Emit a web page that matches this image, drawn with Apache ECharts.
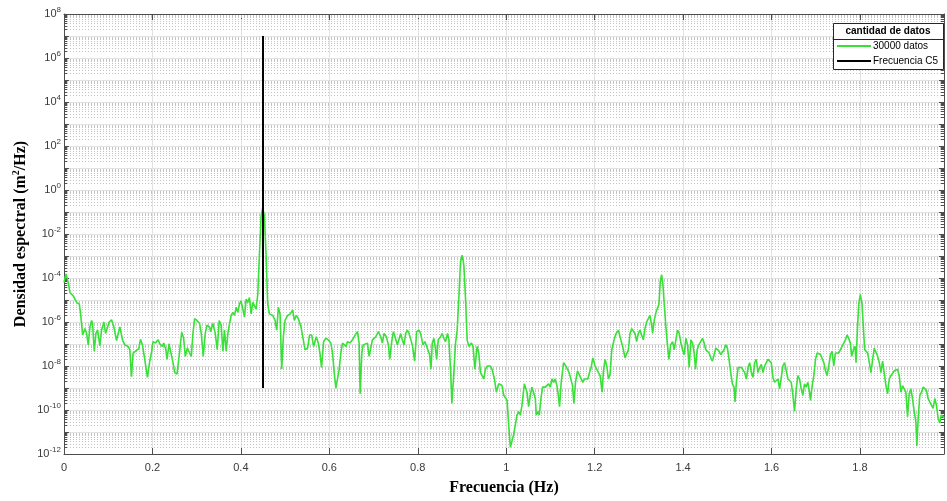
<!DOCTYPE html>
<html>
<head>
<meta charset="utf-8">
<title>Densidad espectral</title>
<script src="https://cdn.jsdelivr.net/npm/echarts@6/dist/echarts.min.js"></script>
<style>
html, body { margin: 0; padding: 0; background: #fff; }
#chart { width: 947px; height: 501px; }
</style>
</head>
<body>
<div id="chart"></div>
<script>
// espectro (densidad en log10, m^2/Hz)
var frecuencia = [
	0.0000, 0.0023, 0.0045, 0.0098, 0.0135, 0.0210, 0.0286, 0.0346, 0.0376, 0.0421,
	0.0474, 0.0511, 0.0549, 0.0586, 0.0624, 0.0646, 0.0684, 0.0722, 0.0759, 0.0812,
	0.0849, 0.0902, 0.0940, 0.0985, 0.1022, 0.1075, 0.1127, 0.1188, 0.1263, 0.1323,
	0.1375, 0.1451, 0.1488, 0.1526, 0.1563, 0.1639, 0.1691, 0.1729, 0.1774, 0.1826,
	0.1887, 0.1939, 0.1977, 0.2014, 0.2067, 0.2127, 0.2165, 0.2225, 0.2255, 0.2300,
	0.2330, 0.2375, 0.2413, 0.2465, 0.2503, 0.2555, 0.2616, 0.2661, 0.2706, 0.2743,
	0.2789, 0.2841, 0.2879, 0.2916, 0.2954, 0.3006, 0.3067, 0.3104, 0.3149, 0.3194,
	0.3232, 0.3292,
	0.3315, 0.3367, 0.3420, 0.3465, 0.3510, 0.3555, 0.3593, 0.3630, 0.3668, 0.3706,
	0.3743, 0.3780, 0.3818, 0.3856, 0.3894, 0.3930, 0.3968, 0.4006, 0.4051, 0.4081,
	0.4119, 0.4156, 0.4194, 0.4232, 0.4269, 0.4307, 0.4344, 0.4382, 0.4419, 0.4457,
	0.4494, 0.4532, 0.4570, 0.4607, 0.4645, 0.4720, 0.4773, 0.4810, 0.4848, 0.4886,
	0.4923, 0.4961, 0.4998, 0.5058, 0.5118, 0.5171, 0.5209, 0.5254, 0.5299, 0.5359,
	0.5412, 0.5449, 0.5509, 0.5554, 0.5600, 0.5645, 0.5705, 0.5750, 0.5787, 0.5825,
	0.5870, 0.5923, 0.5975, 0.6035, 0.6073, 0.6110, 0.6148, 0.6186, 0.6223, 0.6261,
	0.6298, 0.6336, 0.6374, 0.6411, 0.6464,
	0.6524, 0.6584, 0.6637, 0.6674, 0.6697, 0.6735, 0.6765, 0.6810, 0.6862, 0.6900,
	0.6938, 0.6975, 0.7013, 0.7050, 0.7110, 0.7163, 0.7200, 0.7238, 0.7291, 0.7336,
	0.7366, 0.7411, 0.7448, 0.7486, 0.7538, 0.7576, 0.7614, 0.7651, 0.7689, 0.7726,
	0.7764, 0.7802, 0.7839, 0.7877, 0.7929, 0.7974, 0.8027, 0.8064, 0.8117, 0.8162,
	0.8215, 0.8268, 0.8298, 0.8328, 0.8365, 0.8403, 0.8426, 0.8463, 0.8516, 0.8553,
	0.8591, 0.8628, 0.8674, 0.8704, 0.8741, 0.8771, 0.8816, 0.8854, 0.8891, 0.8929,
	0.8967, 0.9004, 0.9042, 0.9079, 0.9117, 0.9154, 0.9215, 0.9252, 0.9290, 0.9342,
	0.9380, 0.9417, 0.9455, 0.9493, 0.9530, 0.9568, 0.9643, 0.9680, 0.9733, 0.9778,
	0.9831, 0.9868, 0.9906, 0.9944, 0.9981, 1.0019, 1.0056, 1.0094, 1.0132, 1.0169,
	1.0207, 1.0244, 1.0282, 1.0320, 1.0357, 1.0410, 1.0447, 1.0470, 1.0507, 1.0545,
	1.0583, 1.0620, 1.0658, 1.0680, 1.0718, 1.0748, 1.0785, 1.0823, 1.0883, 1.0921,
	1.0958, 1.0996, 1.1034, 1.1071, 1.1109, 1.1146, 1.1169, 1.1206, 1.1244, 1.1297,
	1.1349, 1.1387, 1.1424, 1.1462, 1.1500, 1.1530, 1.1567, 1.1612, 1.1657, 1.1695,
	1.1733, 1.1770, 1.1808, 1.1845, 1.1883, 1.1921, 1.1958, 1.2011, 1.2048, 1.2086,
	1.2124, 1.2146, 1.2169, 1.2199, 1.2236, 1.2274, 1.2311, 1.2349, 1.2387, 1.2439,
	1.2484, 1.2537, 1.2574, 1.2612, 1.2650, 1.2687, 1.2725, 1.2762, 1.2800, 1.2838,
	1.2875, 1.2913, 1.2950, 1.2988,
	1.3026, 1.3063, 1.3101, 1.3138, 1.3176, 1.3213, 1.3251, 1.3289, 1.3311, 1.3348,
	1.3386, 1.3424, 1.3454, 1.3484, 1.3514, 1.3544, 1.3574, 1.3611, 1.3649, 1.3679,
	1.3717, 1.3762, 1.3799, 1.3837, 1.3874, 1.3912, 1.3950, 1.3987, 1.4025, 1.4063,
	1.4100, 1.4138, 1.4175, 1.4213, 1.4251, 1.4281, 1.4318, 1.4356, 1.4401, 1.4438,
	1.4476, 1.4514, 1.4551, 1.4589, 1.4626, 1.4664, 1.4702, 1.4739, 1.4777, 1.4814,
	1.4852, 1.4890, 1.4927, 1.4965, 1.5002, 1.5040, 1.5077, 1.5115, 1.5152, 1.5175,
	1.5205, 1.5243, 1.5280, 1.5318, 1.5355, 1.5393, 1.5431, 1.5468, 1.5506, 1.5543,
	1.5581, 1.5618, 1.5656, 1.5693, 1.5731, 1.5769, 1.5806, 1.5844, 1.5881, 1.5919,
	1.5957, 1.5994, 1.6032, 1.6069, 1.6107, 1.6144, 1.6182, 1.6220, 1.6257, 1.6295,
	1.6332,
	1.6370, 1.6408, 1.6445, 1.6483, 1.6520, 1.6558, 1.6595, 1.6633, 1.6671, 1.6708,
	1.6746, 1.6783, 1.6821, 1.6859, 1.6881, 1.6919, 1.6956, 1.6994, 1.7031, 1.7069,
	1.7107, 1.7144, 1.7182, 1.7219, 1.7257, 1.7294, 1.7332, 1.7370, 1.7407, 1.7445,
	1.7482, 1.7520, 1.7558, 1.7595, 1.7633, 1.7670, 1.7708, 1.7745, 1.7783, 1.7813,
	1.7851, 1.7888, 1.7911, 1.7941, 1.7971, 1.8008, 1.8046, 1.8076, 1.8106, 1.8136,
	1.8174, 1.8211, 1.8249, 1.8286, 1.8324, 1.8361, 1.8399, 1.8437, 1.8474, 1.8512,
	1.8549, 1.8587, 1.8625, 1.8662, 1.8700, 1.8737, 1.8775, 1.8812, 1.8850, 1.8888,
	1.8925, 1.8963, 1.9000, 1.9038, 1.9076, 1.9113, 1.9151, 1.9188, 1.9226, 1.9263,
	1.9286, 1.9316, 1.9353, 1.9391, 1.9429, 1.9466, 1.9504, 1.9541, 1.9579, 1.9617,
	1.9654, 1.9692, 1.9729, 1.9767, 1.9805, 1.9842, 1.9880, 1.9909
];
var densidadLog10 = [
	-4.20, -4.00, -3.82, -4.22, -4.67, -4.81, -5.11, -5.19, -5.63, -6.59,
	-6.30, -6.52, -7.04, -6.22, -5.93, -6.07, -7.33, -6.52, -6.37, -7.08,
	-6.37, -6.00, -6.52, -6.52, -6.00, -5.90, -6.22, -6.84, -6.22, -6.81,
	-7.04, -7.11, -7.26, -8.49, -7.41, -7.29, -7.21, -6.79, -7.04, -7.70,
	-8.52, -7.78, -7.41, -6.89, -6.96, -6.81, -6.99, -7.11, -6.96, -7.23,
	-7.70, -6.99, -7.08, -7.85, -8.30, -8.37, -7.33, -6.47, -6.74, -7.56,
	-7.19, -7.41, -7.56, -6.52, -5.85, -5.93, -6.07, -6.52, -7.56, -6.52,
	-6.15, -6.22,
	-6.44, -6.07, -6.52, -7.26, -5.93, -6.15, -7.33, -6.37, -7.33, -6.52,
	-6.07, -5.70, -5.56, -5.70, -5.33, -5.56, -5.19, -5.04, -5.01, -5.78,
	-4.96, -5.11, -4.89, -5.63, -5.11, -5.19, -5.41, -4.74, -2.96, -1.19,
	-0.81, -1.19, -2.96, -5.19, -5.63, -5.70, -5.93, -6.37, -5.33, -5.63,
	-8.15, -6.67, -5.93, -5.70, -5.63, -5.45, -5.93, -5.70, -5.85, -6.22,
	-6.81, -7.26, -7.19, -6.59, -6.59, -7.11, -6.67, -6.96, -7.41, -8.07,
	-6.89, -6.74, -6.81, -6.96, -7.41, -8.30, -9.01, -8.96, -8.15, -7.41,
	-6.96, -6.96, -7.11, -6.89, -6.96,
	-6.81, -6.59, -6.44, -6.96, -9.26, -7.41, -7.04, -7.04, -6.96, -7.56,
	-7.56, -6.81, -6.89, -6.67, -6.44, -6.67, -6.96, -6.52, -6.67, -7.04,
	-7.70, -6.89, -6.44, -6.67, -7.04, -6.96, -6.52, -6.81, -7.04, -6.52,
	-6.37, -6.52, -6.59, -7.04, -7.78, -6.44, -6.37, -6.52, -7.04, -6.89,
	-7.19, -7.48, -8.15, -6.96, -6.74, -7.26, -7.70, -6.81, -6.67, -6.52,
	-6.74, -6.89, -6.52, -6.81, -8.15, -9.70, -8.30, -6.96, -6.37, -4.89,
	-3.26, -2.96, -3.41, -4.89, -6.81, -7.11, -6.96, -7.11, -8.15, -7.11,
	-7.41, -8.30, -8.44, -8.59, -8.15, -8.00, -8.00, -8.15, -8.59, -9.19,
	-8.81, -8.74, -8.89, -9.33, -9.33, -9.56, -10.67, -11.70, -11.70, -11.11,
	-10.67, -10.22, -10.07, -10.22, -9.78, -8.81, -8.89, -9.19, -9.85, -9.33,
	-8.96, -8.89, -9.48, -10.22, -10.07, -10.22, -9.48, -8.96, -8.96, -9.04,
	-8.81, -8.96, -8.59, -8.74, -8.59, -8.89, -9.19, -9.85, -8.74, -7.85,
	-8.00, -8.15, -8.30, -8.37, -8.89, -9.70, -8.74, -8.22, -8.30, -8.59,
	-8.74, -8.59, -8.52, -8.59, -8.30, -8.07, -7.63, -8.00, -8.07, -8.30,
	-8.44, -8.81, -9.19, -8.22, -7.70, -8.00, -8.59, -8.37, -7.26, -6.81,
	-6.52, -6.37, -6.67, -6.96, -7.26, -7.63, -7.70, -7.26, -6.52, -6.30,
	-6.30, -6.52, -6.89, -6.52,
	-6.37, -6.59, -6.81, -6.30, -6.00, -5.85, -5.70, -6.15, -6.52, -5.93,
	-5.56, -5.48, -5.19, -4.15, -3.85, -4.30, -5.19, -6.22, -7.11, -7.70,
	-7.04, -6.89, -7.26, -6.81, -6.37, -6.52, -6.96, -7.26, -7.48, -6.74,
	-7.04, -8.07, -6.81, -6.96, -7.41, -8.15, -7.26, -7.04, -7.11, -6.74,
	-6.96, -7.26, -7.33, -7.41, -7.63, -7.78, -7.48, -7.19, -7.26, -7.33,
	-7.48, -7.56, -7.26, -7.04, -7.19, -7.70, -8.30, -8.81, -8.96, -9.63,
	-8.74, -8.07, -8.07, -8.07, -8.07, -8.30, -8.59, -8.07, -7.85, -8.30,
	-8.52, -7.85, -7.70, -8.30, -8.07, -7.93, -8.30, -8.00, -7.85, -7.70,
	-7.70, -7.85, -8.52, -8.74, -8.74, -8.59, -9.04, -8.52, -8.00, -7.85,
	-7.85,
	-8.59, -8.59, -8.74, -9.33, -10.07, -9.04, -8.44, -8.59, -9.04, -9.33,
	-8.81, -8.96, -8.74, -9.19, -9.56, -8.89, -8.44, -7.70, -7.41, -7.33,
	-7.48, -7.56, -7.85, -8.22, -8.44, -8.00, -7.48, -7.33, -8.00, -7.41,
	-7.33, -7.41, -7.26, -7.11, -6.96, -6.81, -6.59, -6.74, -6.96, -7.56,
	-7.26, -7.11, -7.85, -6.37, -5.19, -4.74, -5.19, -6.22, -7.26, -7.33,
	-7.41, -7.85, -8.30, -7.70, -7.19, -7.26, -7.56, -7.85, -8.30, -7.78,
	-7.85, -8.89, -9.26, -8.59, -8.44, -8.37, -8.22, -8.22, -8.15, -8.44,
	-9.19, -8.89, -8.89, -9.19, -10.30, -9.26, -9.04, -9.48, -10.07, -10.52,
	-11.63, -10.37, -9.33, -9.19, -8.96, -8.89, -9.11, -9.48, -9.63, -9.63,
	-9.93, -9.48, -9.78, -10.37, -10.59, -10.22, -10.22, -10.37
];
// linea vertical de la frecuencia C5
var frecuenciaC5 = [0.45, 0.45];
var c5Log10 = [-9, 7];

var nombresSeries = ['30000 datos', 'Frecuencia C5'];
var tituloLeyenda = 'cantidad de datos';
var ejeX = 'Frecuencia (Hz)';

if (frecuencia.length !== densidadLog10.length) {
	throw new Error('longitudes distintas: ' + frecuencia.length + ' / ' + densidadLog10.length);
}

var espectro = frecuencia.map(function(f, i) { return [f, densidadLog10[i]]; });
var lineaC5 = frecuenciaC5.map(function(f, i) { return [f, c5Log10[i]]; });

// rejilla menor logaritmica (2..9 en cada decada)
var rejillaMenor = [];
for (var n = -12; n < 8; n++) {
	for (var k = 2; k <= 9; k++) {
		rejillaMenor.push([0, n + Math.log10(k)]);
	}
}

var colorEje = '#4d4d4d';
var colorTexto = '#3a3a3a';

function dibujarMenor(params, api) {
	var cs = params.coordSys;
	var y = Math.round(api.coord([0, api.value(1)])[1]) + 0.5;
	var x0 = cs.x, x1 = cs.x + cs.width;
	return {
		type: 'group',
		children: [
			{ type: 'line', shape: { x1: x0, y1: y, x2: x1, y2: y }, style: { stroke: '#c4c4c4', lineWidth: 1, lineDash: [1, 2] } },
			{ type: 'line', shape: { x1: x0, y1: y, x2: x0 + 3, y2: y }, style: { stroke: colorEje, lineWidth: 1 } },
			{ type: 'line', shape: { x1: x1 - 3, y1: y, x2: x1, y2: y }, style: { stroke: colorEje, lineWidth: 1 } }
		]
	};
}

var chart = echarts.init(document.getElementById('chart'));
chart.setOption({
	animation: false,
	backgroundColor: '#fff',
	grid: { left: 64, right: 1, top: 14, bottom: 44 },
	legend: {
		data: nombresSeries,
		orient: 'vertical',
		left: 836,
		top: 41,
		padding: 0,
		itemWidth: 34,
		itemHeight: 10,
		itemGap: 5,
		z: 120,
		itemStyle: { opacity: 0 },
		textStyle: { fontSize: 10, fontFamily: 'Liberation Sans', color: '#000', padding: [0, 0, 0, -3] }
	},
	graphic: [
		{ type: 'rect', z: 100, shape: { x: 833.5, y: 23.5, width: 110, height: 46 }, style: { fill: '#fff', stroke: '#262626', lineWidth: 1 } },
		{ type: 'line', z: 101, shape: { x1: 833.5, y1: 39.5, x2: 943.5, y2: 39.5 }, style: { stroke: '#262626', lineWidth: 1 } },
		{ type: 'text', z: 101, x: 888, y: 31.5, style: { text: tituloLeyenda, font: 'bold 10px "Liberation Sans"', fill: '#000', align: 'center', verticalAlign: 'middle' } }
	],
	xAxis: [
		{
			type: 'value', position: 'bottom', min: 0, max: 1.99, interval: 0.2,
			name: ejeX, nameLocation: 'middle', nameGap: 26,
			nameTextStyle: { fontFamily: 'Liberation Serif', fontWeight: 'bold', fontSize: 16, color: '#000' },
			axisLine: { onZero: false, lineStyle: { color: colorEje } },
			axisTick: { inside: true, length: 6, lineStyle: { color: colorEje } },
			axisLabel: {
				margin: 8, fontSize: 11, fontFamily: 'Liberation Sans', color: colorTexto,
				formatter: function(v) {
					var r = Math.round(v * 5);
					return Math.abs(v * 5 - r) < 1e-6 ? String(+(r / 5).toFixed(1)) : '';
				}
			},
			splitLine: { show: true, lineStyle: { color: '#e2e2e2' } }
		},
		{
			type: 'value', position: 'top', min: 0, max: 1.99, interval: 0.2,
			axisLine: { onZero: false, lineStyle: { color: colorEje } },
			axisTick: { inside: true, length: 6, lineStyle: { color: colorEje } },
			axisLabel: { show: false },
			splitLine: { show: false }
		}
	],
	yAxis: [
		{
			type: 'value', position: 'left', min: -12, max: 8, interval: 1,
			name: '{a|Densidad espectral (m}{s|2}{a|/Hz)}', nameLocation: 'middle', nameGap: 34,
			nameMoveOverlap: false,
			nameTextStyle: {
				rich: {
					a: { fontFamily: 'Liberation Serif', fontWeight: 'bold', fontSize: 16, color: '#000' },
					s: { fontFamily: 'Liberation Serif', fontWeight: 'bold', fontSize: 10, color: '#000', padding: [0, 0, 9, 0] }
				}
			},
			axisLine: { onZero: false, lineStyle: { color: colorEje } },
			axisTick: { inside: true, length: 5, lineStyle: { color: colorEje } },
			axisLabel: {
				margin: 3,
				formatter: function(v) {
					return v % 2 === 0 ? '{b|10}{s|' + v + '}' : '';
				},
				rich: {
					b: { fontSize: 11, fontFamily: 'Liberation Sans', color: colorTexto },
					s: { fontSize: 8, fontFamily: 'Liberation Sans', color: colorTexto, padding: [0, 0, 8, 0] }
				}
			},
			splitLine: { show: true, lineStyle: { color: '#e2e2e2' } }
		},
		{
			type: 'value', position: 'right', min: -12, max: 8, interval: 1,
			axisLine: { onZero: false, lineStyle: { color: colorEje } },
			axisTick: { inside: true, length: 5, lineStyle: { color: colorEje } },
			axisLabel: { show: false },
			splitLine: { show: false }
		}
	],
	series: [
		{
			name: 'rejilla',
			type: 'custom',
			silent: true,
			z: 1,
			renderItem: dibujarMenor,
			data: rejillaMenor
		},
		{
			name: nombresSeries[0],
			type: 'line',
			data: espectro,
			symbol: 'none',
			z: 3,
			lineStyle: { color: '#38e038', width: 1.6 },
			itemStyle: { color: '#38e038' }
		},
		{
			name: nombresSeries[1],
			type: 'line',
			data: lineaC5,
			symbol: 'none',
			z: 4,
			lineStyle: { color: '#000', width: 2 },
			itemStyle: { color: '#000' }
		}
	]
});
</script>
</body>
</html>
